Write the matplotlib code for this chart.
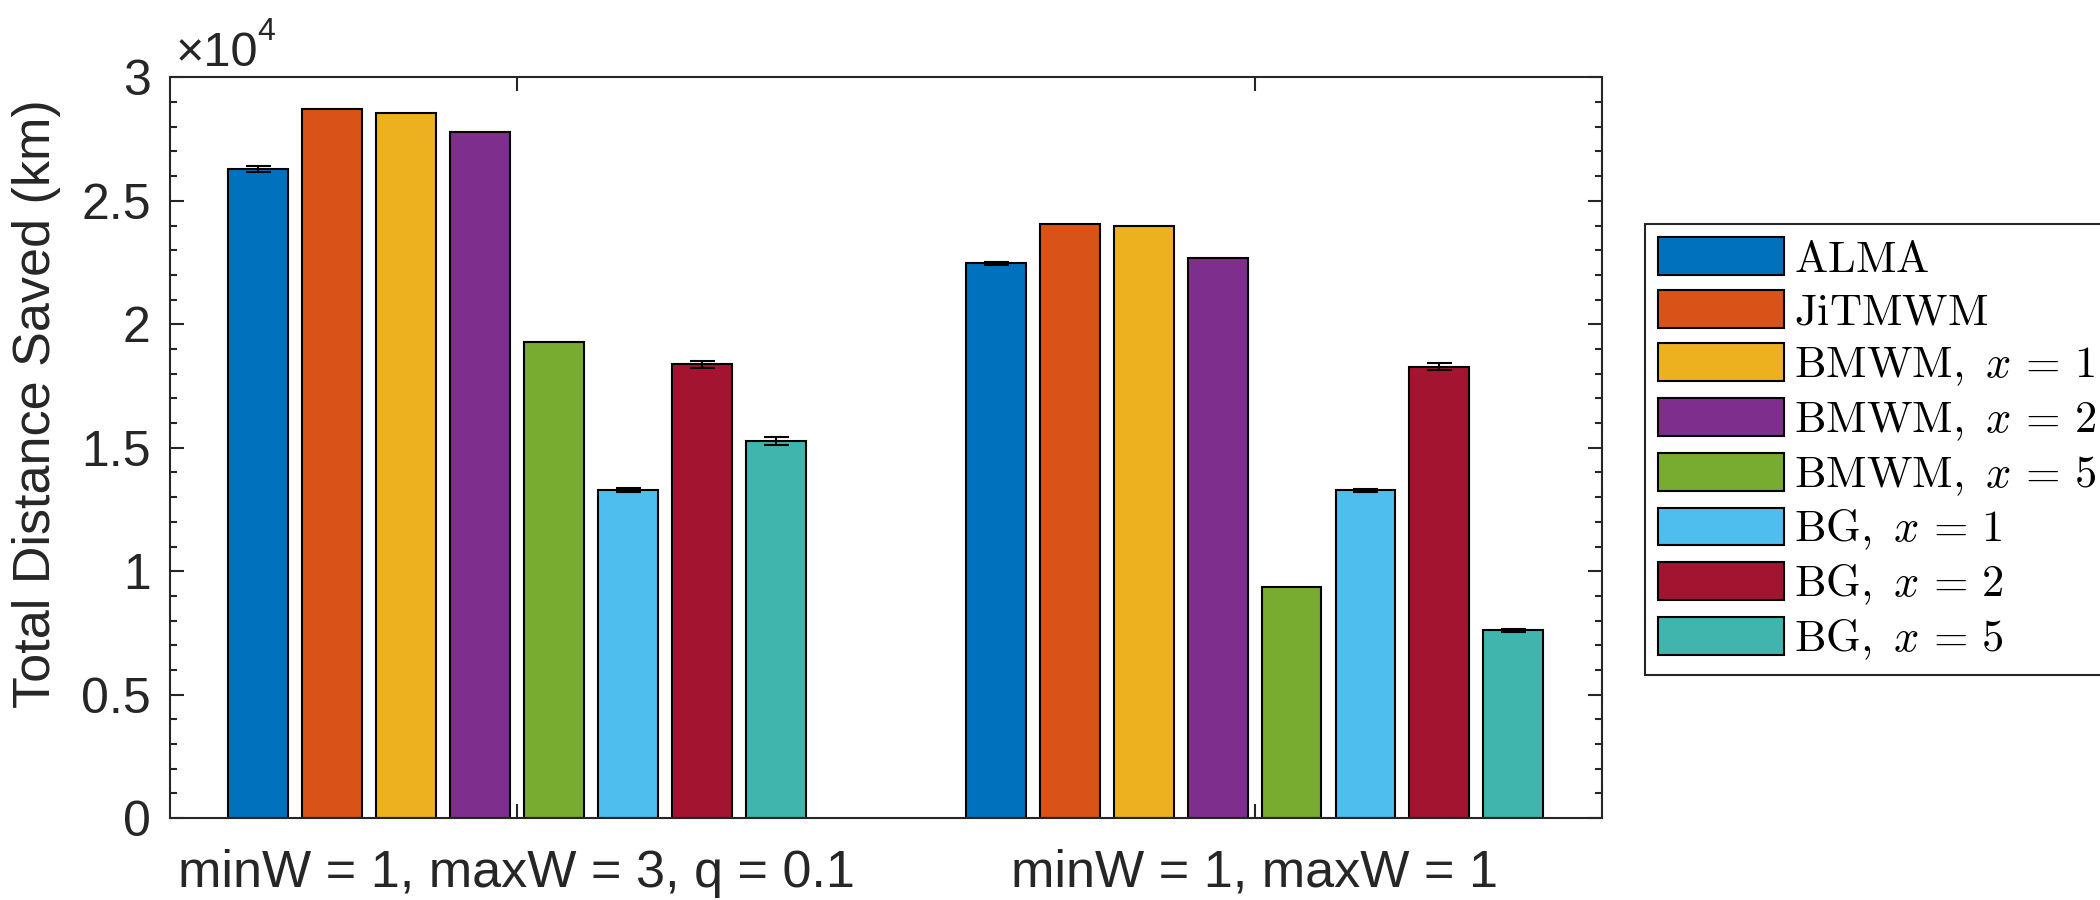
from matplotlib import pyplot as pl
from matplotlib.ticker import MultipleLocator, FuncFormatter
import matplotlib
import numpy as np

matplotlib.rcParams['font.family'] = ['Liberation Sans', 'DejaVu Sans']
matplotlib.rcParams['mathtext.fontset'] = 'cm'

# Data (km saved)
groups = ['minW = 1, maxW = 3, q = 0.1', 'minW = 1, maxW = 1']
methods = [
           r'$\mathrm{ALMA}$',
           r'$\mathrm{JiTMWM}$',
           r'$\mathrm{BMWM},\ x\,=\,1$',
           r'$\mathrm{BMWM},\ x\,=\,2$',
           r'$\mathrm{BMWM},\ x\,=\,5$',
           r'$\mathrm{BG},\ x\,=\,1$',
           r'$\mathrm{BG},\ x\,=\,2$',
           r'$\mathrm{BG},\ x\,=\,5$',
           ]
alma = [26300, 22470]
jitmwm = [28700, 24050]
bmwm_1 = [28540, 23970]
bmwm_2 = [27770, 22690]
bmwm_5 = [19270, 9350]
bg_1 = [13300, 13280]
bg_2 = [18380, 18280]
bg_5 = [15260, 7610]

# Error bars (only the randomised methods have spread)
alma_err = [120, 70]
bg_1_err = [80, 60]
bg_2_err = [150, 140]
bg_5_err = [160, 60]

values = [alma, jitmwm, bmwm_1, bmwm_2, bmwm_5, bg_1, bg_2, bg_5]
errors = [alma_err, None, None, None, None, bg_1_err, bg_2_err, bg_5_err]
colours = ['#0072BD', '#D95319', '#EDB120', '#7E2F8E',
           '#77AC30', '#4DBEEE', '#A2142F', '#40B5AD']

spacing = 0.1003
width = 0.0813
edge = '#262626'

fig = pl.figure(figsize=(21, 9), dpi=100)
ax = fig.add_axes([0.081, 0.091, 0.682, 0.823])

xc = np.arange(1, len(groups)+1)
handles = []
for i, (vals, err, col, lab) in enumerate(zip(values, errors, colours, methods)):
    x = xc + (i-3.5)*spacing
    b = ax.bar(x, vals, width=width, color=col, edgecolor='k',
               linewidth=1.5, label=lab, zorder=2)
    handles.append(b)
    if err is not None:
        ax.errorbar(x, vals, yerr=err, fmt='none', ecolor='k',
                    elinewidth=1.5, capsize=9, capthick=1.5, zorder=3)

ax.set_xlim([0.5298, 2.4715])
ax.set_ylim([0, 30000])

ax.set_xticks(xc)
ax.set_xticklabels(groups, fontsize=37.5)
ax.yaxis.set_major_locator(MultipleLocator(5000))
ax.yaxis.set_minor_locator(MultipleLocator(1000))
ax.yaxis.set_major_formatter(FuncFormatter(lambda v, p: '{:g}'.format(v/1e4)))

ax.tick_params(axis='both', which='both', direction='in', colors=edge,
               labelcolor='#262626', width=1.5, top=True, right=True)
ax.tick_params(axis='y', which='major', labelsize=36)
ax.tick_params(axis='both', which='major', length=10, pad=14)
ax.tick_params(axis='y', which='minor', length=5)
ax.tick_params(axis='x', which='major', pad=22)
for s in ax.spines.values():
    s.set_color(edge)
    s.set_linewidth(1.5)

ax.set_ylabel('Total Distance Saved (km)', fontsize=37.5, color='#262626')
ax.yaxis.set_label_coords(-0.076, 0.56)

# Exponent label like MATLAB
ax.text(0.004, 1.016, u'\u00d710', transform=ax.transAxes, fontsize=35,
        color='#262626', ha='left', va='baseline')
ax.text(0.061, 1.05, '4', transform=ax.transAxes, fontsize=23,
        color='#262626', ha='left', va='baseline')

leg = fig.legend(handles=handles, loc='upper left',
                 bbox_to_anchor=(0.7833, 0.751), fontsize=32,
                 fancybox=False, framealpha=1, edgecolor=edge,
                 handlelength=2.84, handleheight=0.93, handletextpad=0.22,
                 labelspacing=0.22, borderpad=0.3, borderaxespad=0)
leg.get_frame().set_linewidth(1.5)

fig.savefig('out.png', dpi=100)
